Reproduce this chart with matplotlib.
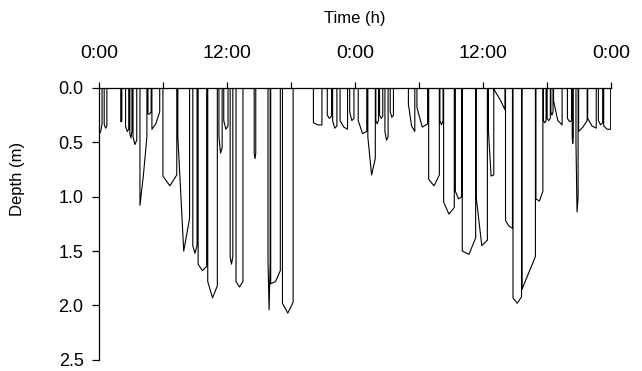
import numpy as np
import matplotlib
matplotlib.use("Agg")
import matplotlib.pyplot as plt
from matplotlib.ticker import MultipleLocator, FixedLocator

plt.rcParams['font.family'] = ['Liberation Sans', 'DejaVu Sans']

# dives: start / end time (h) and depth at entry, middle, exit (m)
dive_start = [0.05, 0.50, 2.05, 2.50, 2.90, 3.20, 3.85, 4.60, 4.97, 6.00,
              7.40, 8.80, 9.30, 10.20, 11.25, 11.70, 12.30, 12.85, 14.55, 15.85,
              16.10, 17.20, 20.10, 21.40, 21.90, 22.60, 23.50, 24.30, 25.20, 25.95,
              26.30, 26.80, 27.30, 29.00, 29.80, 30.90, 31.95, 32.30, 33.40, 34.05,
              35.35, 36.50, 37.05, 38.10, 38.80, 39.65, 40.95, 41.65, 42.00, 42.35,
              42.60, 43.90, 44.35, 44.70, 44.95, 45.80, 46.80, 47.30]
dive_end = [0.30, 0.75, 2.15, 2.80, 3.10, 3.55, 4.50, 4.90, 5.70, 7.30,
            8.50, 9.20, 10.10, 11.10, 11.55, 12.10, 12.55, 13.50, 14.70, 16.05,
            17.00, 18.20, 20.90, 21.80, 22.30, 23.30, 23.90, 25.10, 25.90, 26.20,
            26.60, 27.10, 27.60, 29.60, 30.80, 31.90, 32.25, 33.30, 34.00, 35.30,
            36.40, 37.00, 38.05, 38.75, 39.60, 40.90, 41.60, 41.90, 42.30, 42.55,
            43.40, 44.30, 44.45, 44.90, 45.75, 46.60, 47.20, 47.95]
depth_in = [0.42, 0.33, 0.31, 0.35, 0.42, 0.45, 1.08, 0.24, 0.38, 0.81,
            0.45, 1.45, 1.62, 1.78, 0.45, 0.30, 1.55, 1.78, 0.60, 1.60,
            1.80, 1.98, 0.32, 0.25, 0.30, 0.30, 0.22, 0.30, 0.45, 0.30,
            0.25, 0.40, 0.22, 0.15, 0.18, 0.84, 0.30, 1.05, 0.95, 1.50,
            1.00, 0.40, 0.02, 1.22, 1.93, 1.85, 1.02, 0.30, 0.28, 0.22,
            0.12, 0.28, 0.45, 0.50, 0.40, 0.28, 0.30, 0.35]
depth_mid = [0.40, 0.37, 0.31, 0.40, 0.46, 0.52, 0.80, 0.24, 0.33, 0.90,
             1.50, 1.52, 1.68, 1.93, 0.60, 0.38, 1.62, 1.83, 0.65, 2.04,
             1.78, 2.07, 0.34, 0.28, 0.37, 0.36, 0.30, 0.42, 0.80, 0.33,
             0.28, 0.48, 0.27, 0.35, 0.36, 0.90, 0.34, 1.16, 1.02, 1.53,
             1.45, 0.81, 0.10, 1.27, 1.98, 1.70, 1.04, 0.32, 0.30, 0.25,
             0.30, 0.31, 0.51, 1.14, 0.36, 0.35, 0.34, 0.38]
depth_out = [0.33, 0.35, 0.30, 0.38, 0.40, 0.48, 0.45, 0.22, 0.22, 0.80,
             1.20, 1.45, 1.64, 1.82, 0.55, 0.35, 1.55, 1.78, 0.60, 1.60,
             1.68, 1.97, 0.34, 0.26, 0.35, 0.38, 0.28, 0.40, 0.65, 0.30,
             0.26, 0.45, 0.25, 0.40, 0.33, 0.80, 0.30, 1.10, 1.00, 1.38,
             1.40, 0.80, 0.20, 1.29, 1.92, 1.55, 0.95, 0.30, 0.28, 0.22,
             0.34, 0.30, 0.45, 1.00, 0.30, 0.37, 0.32, 0.38]

time_ticks = [0, 12, 24, 36, 48]
time_labels = ['0:00', '12:00', '0:00', '12:00', '0:00']

# build the depth trace
t = [0.0]
d = [0.0]
for t0, t1, a, b, c in zip(dive_start, dive_end, depth_in, depth_mid, depth_out):
    t += [t0, t0, (t0 + t1) / 2, t1, t1]
    d += [0.0, a, b, c, 0.0]
t.append(48.0)
d.append(0.0)

fig = plt.figure(figsize=(6.42, 3.71), dpi=100)
ax = fig.add_axes([0.154, 0.03, 0.798, 0.733])

ax.plot(t, d, color='black', lw=0.8)

ax.set_xlim(0, 48)
ax.set_ylim(2.5, 0)
ax.xaxis.tick_top()
ax.xaxis.set_label_position('top')
ax.set_xticks(time_ticks)
ax.set_xticklabels(time_labels)
ax.xaxis.set_minor_locator(FixedLocator([6, 18, 30, 42]))
ax.yaxis.set_major_locator(MultipleLocator(0.5))
ax.yaxis.set_major_formatter(matplotlib.ticker.FormatStrFormatter('%.1f'))

for s in ['right', 'bottom']:
    ax.spines[s].set_visible(False)
for s in ['top', 'left']:
    ax.spines[s].set_linewidth(0.9)

ax.tick_params(axis='x', which='both', direction='out', length=4, width=0.9,
               pad=15, labelsize=14)
ax.tick_params(axis='y', direction='out', length=5, width=0.9, pad=6, labelsize=13)

ax.set_xlabel('Time (h)', fontsize=12)
ax.xaxis.label.set_va('center')
ax.xaxis.set_label_coords(0.5, 1.255)
ax.set_ylabel('Depth (m)', fontsize=12)
ax.yaxis.label.set_va('center')
ax.yaxis.set_label_coords(-0.158, 0.665)

fig.savefig('out.png', dpi=100)
